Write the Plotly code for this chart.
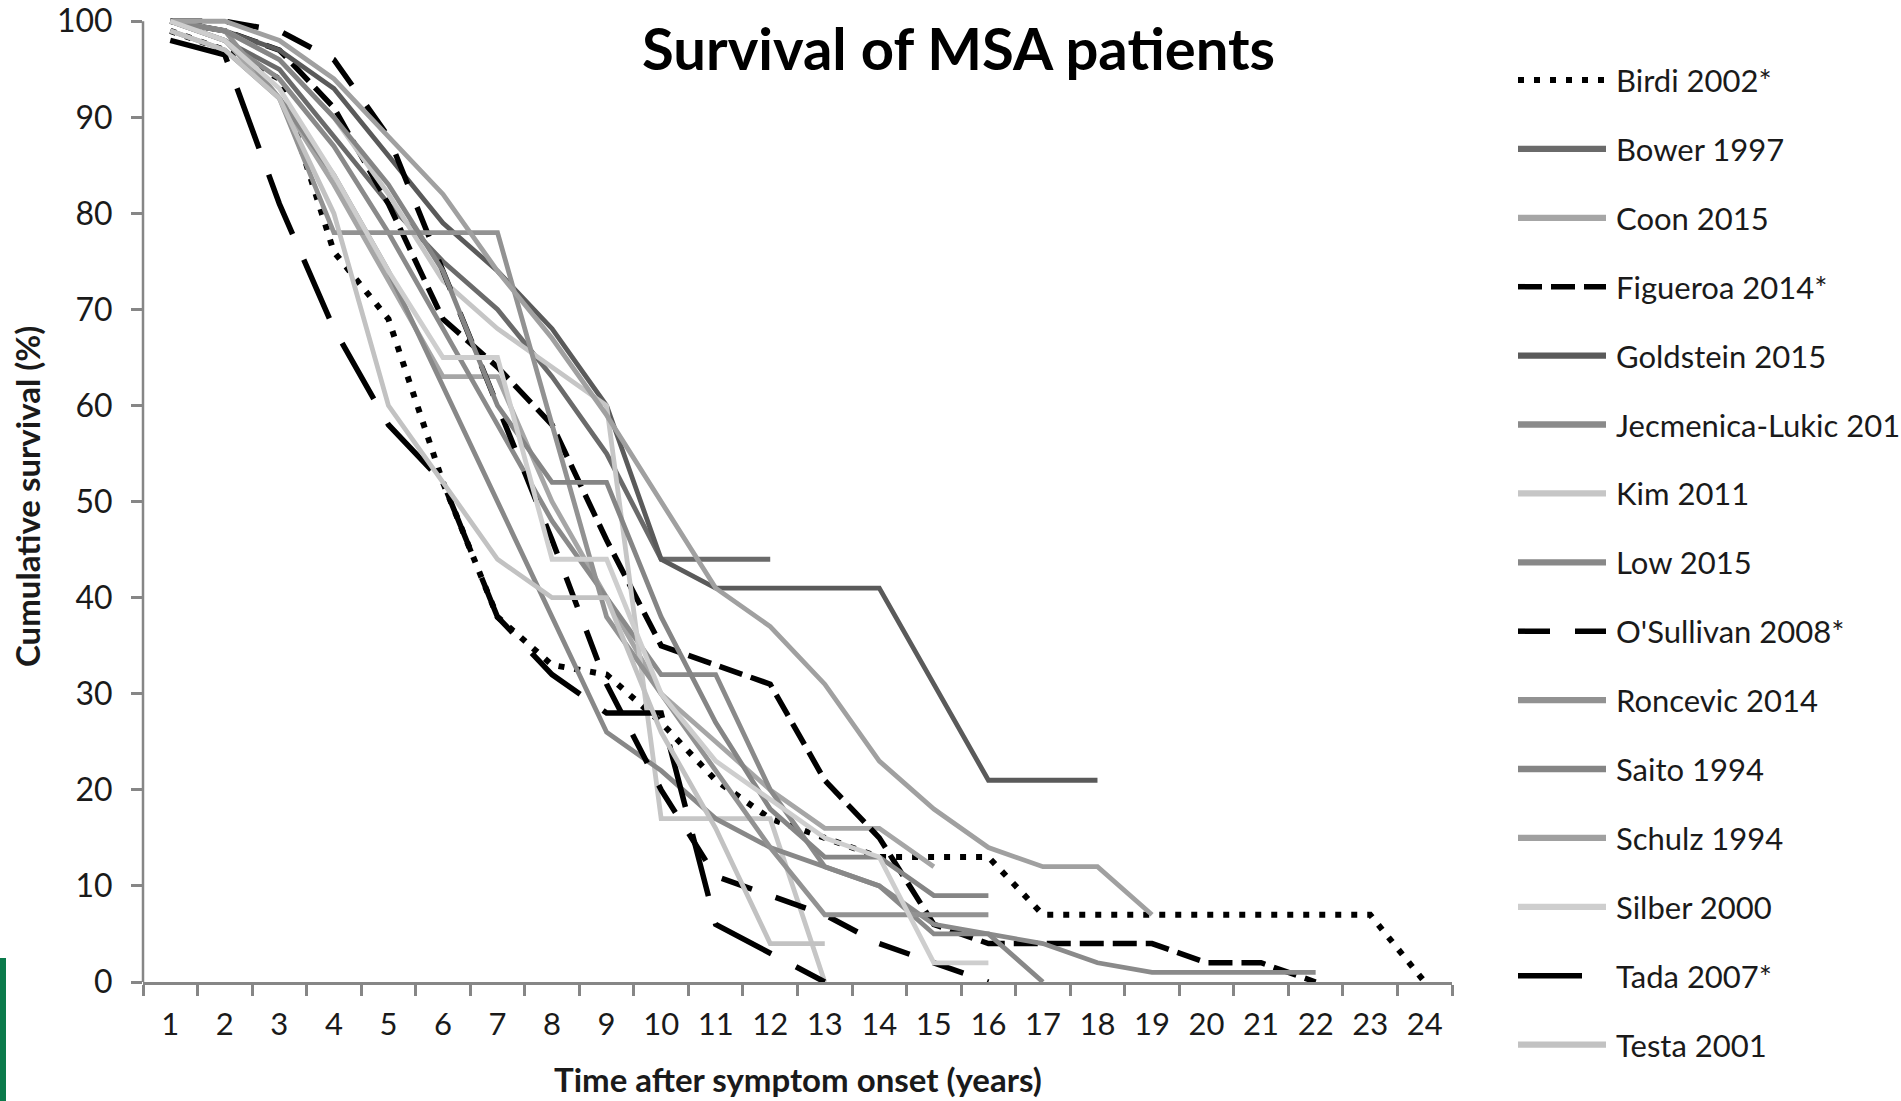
import plotly.graph_objects as go

# Years after symptom onset (category axis) and survival tick values
years = [str(i) for i in range(1, 25)]
y_ticks = list(range(0, 101, 10))

# Cumulative survival (%) per study, one value per year from year 1
birdi_2002 = [99, 97, 94, 76, 69, 52, 38, 33, 32, 27, 21, 17, 15, 13, 13, 13, 7, 7, 7, 7, 7, 7, 7, 0]
bower_1997 = [100, 98, 95, 88, 81, 75, 70, 63, 55, 44, 44, 44]
coon_2015 = [100, 98, 92, 83, 73, 63, 63, 50, 40, 30, 25, 20, 16, 16, 12]
figueroa_2014 = [100, 99, 97, 91, 81, 69, 64, 58, 46, 35, 33, 31, 21, 15, 6, 4, 4, 4, 4, 2, 2, 0]
goldstein_2015 = [100, 99, 97, 93, 86, 79, 74, 68, 60, 44, 41, 41, 41, 41, 31, 21, 21, 21]
jecmenica_2012 = [100, 98, 94, 87, 78, 68, 58, 48, 40, 32, 32, 20, 12, 10, 6, 5, 4, 2, 1, 1, 1, 1]
kim_2011 = [100, 99, 96, 90, 82, 73, 68, 64, 60, 17, 17, 17, 0]
low_2015 = [99, 97, 92, 84, 74, 62, 50, 38, 26, 22, 17, 14, 12, 10, 5, 5, 0]
osullivan_2008 = [100, 100, 99, 96, 88, 74, 60, 46, 31, 20, 11, 9, 7, 4, 2, 0]
roncevic_2014 = [100, 99, 92, 78, 78, 78, 78, 58, 38, 30, 22, 14, 7, 7, 7, 7]
saito_1994 = [100, 99, 96, 90, 83, 74, 60, 52, 52, 38, 27, 18, 13, 13, 9, 9]
schulz_1994 = [100, 100, 98, 94, 88, 82, 74, 67, 59, 50, 41, 37, 31, 23, 18, 14, 12, 12, 7]
silber_2000 = [100, 98, 93, 84, 74, 65, 65, 44, 44, 30, 23, 19, 15, 13, 2, 2]
tada_2007 = [98, 96.5, 81, 68, 58, 52, 38, 32, 28, 28, 6, 3, 0]
testa_2001 = [99, 97, 92, 80, 60, 52, 44, 40, 40, 26, 16, 4, 4]

series_names = [
    "Birdi 2002*", "Bower 1997", "Coon 2015", "Figueroa 2014*", "Goldstein 2015",
    "Jecmenica-Lukic 2012", "Kim 2011", "Low 2015", "O'Sullivan 2008*", "Roncevic 2014",
    "Saito 1994", "Schulz 1994", "Silber 2000", "Tada 2007*", "Testa 2001",
]
series_values = [
    birdi_2002, bower_1997, coon_2015, figueroa_2014, goldstein_2015,
    jecmenica_2012, kim_2011, low_2015, osullivan_2008, roncevic_2014,
    saito_1994, schulz_1994, silber_2000, tada_2007, testa_2001,
]

# Line styles: (colour, width, dash)
BLACK_W = 5.5
GRAY_W = 4.8
styles = {
    "Birdi 2002*": ("#000000", 6, "6px,10px"),
    "Bower 1997": ("#6a6a6a", GRAY_W, "solid"),
    "Coon 2015": ("#a6a6a6", GRAY_W, "solid"),
    "Figueroa 2014*": ("#000000", BLACK_W, "24px,9px"),
    "Goldstein 2015": ("#5a5a5a", GRAY_W, "solid"),
    "Jecmenica-Lukic 2012": ("#8a8a8a", GRAY_W, "solid"),
    "Kim 2011": ("#c6c6c6", GRAY_W, "solid"),
    "Low 2015": ("#888888", GRAY_W, "solid"),
    "O'Sullivan 2008*": ("#000000", BLACK_W, "32px,25px"),
    "Roncevic 2014": ("#929292", GRAY_W, "solid"),
    "Saito 1994": ("#858585", GRAY_W, "solid"),
    "Schulz 1994": ("#a0a0a0", GRAY_W, "solid"),
    "Silber 2000": ("#cecece", GRAY_W, "solid"),
    "Tada 2007*": ("#000000", BLACK_W, "64px,28px"),
    "Testa 2001": ("#c2c2c2", GRAY_W, "solid"),
}

FONT = "Lato"
AXIS_COLOR = "#868686"
TEXT_COLOR = "#1a1a1a"

# Figure size and margins in px; the y range runs slightly past 100 so lines
# at the top are not cut in half
W, H = 1901, 1101
Y_MAX = 100.65
L, R, B = 143, 449, 119
PX_PER_UNIT = 9.61
T = round(H - B - Y_MAX * PX_PER_UNIT)
plot_w = W - L - R
plot_h = H - T - B


def px_to_paper_x(px):
    return (px - L) / plot_w


def px_to_paper_y(py):
    return (H - B - py) / plot_h


fig = go.Figure()

for name, vals in zip(series_names, series_values):
    color, width, dash = styles[name]
    fig.add_trace(go.Scatter(
        x=years[:len(vals)],
        y=vals,
        mode="lines",
        name=name,
        line=dict(color=color, width=width, dash=dash),
        showlegend=False,
        hoverinfo="skip",
    ))

shapes = []
annotations = []

# Vertical axis line from 0 to 100
shapes.append(dict(
    type="line", xref="paper", yref="y", x0=0, x1=0, y0=0, y1=100,
    line=dict(color=AXIS_COLOR, width=2.5),
))

# Legend drawn at the right: sample line + label for each study
leg_top = 80
leg_step = 68.9
line_x0, line_x1 = 1518, 1606
text_x = 1614
for i, name in enumerate(series_names):
    color, width, dash = styles[name]
    yy = px_to_paper_y(leg_top + i * leg_step)
    lw = width + 1.5 if dash == "solid" else width
    shapes.append(dict(
        type="line", xref="paper", yref="paper",
        x0=px_to_paper_x(line_x0), x1=px_to_paper_x(line_x1), y0=yy, y1=yy,
        line=dict(color=color, width=lw, dash=dash),
    ))
    annotations.append(dict(
        xref="paper", yref="paper", x=px_to_paper_x(text_x), y=yy,
        xanchor="left", yanchor="middle", showarrow=False, text=name,
        font=dict(family=FONT, size=31, color=TEXT_COLOR),
    ))

# Green edge bar at the lower left
shapes.append(dict(
    type="rect", xref="paper", yref="paper", layer="below",
    x0=px_to_paper_x(0), x1=px_to_paper_x(6), y0=px_to_paper_y(H), y1=px_to_paper_y(958),
    line=dict(width=0), fillcolor="#0b7a4b",
))

# Title and axis titles
annotations.append(dict(
    xref="paper", yref="paper", x=px_to_paper_x(958), y=px_to_paper_y(47),
    xanchor="center", yanchor="middle", showarrow=False,
    text="<b>Survival of MSA patients</b>",
    font=dict(family=FONT, size=58, color="#000000"),
))
annotations.append(dict(
    xref="paper", yref="paper", x=px_to_paper_x(27), y=px_to_paper_y(497),
    xanchor="center", yanchor="middle", showarrow=False, textangle=-90,
    text="<b>Cumulative survival (%)</b>",
    font=dict(family=FONT, size=33, color=TEXT_COLOR),
))
annotations.append(dict(
    xref="paper", yref="paper", x=px_to_paper_x(798), y=px_to_paper_y(1079),
    xanchor="center", yanchor="middle", showarrow=False,
    text="<b>Time after symptom onset (years)</b>",
    font=dict(family=FONT, size=33, color=TEXT_COLOR),
))

fig.update_layout(
    width=W, height=H, autosize=False,
    margin=dict(l=L, r=R, t=T, b=B, pad=0, autoexpand=False),
    paper_bgcolor="white", plot_bgcolor="white",
    showlegend=False,
    shapes=shapes,
    annotations=annotations,
    font=dict(family=FONT, color=TEXT_COLOR),
)

fig.update_xaxes(
    type="category", categoryorder="array", categoryarray=years,
    range=[-0.5, len(years) - 0.5], automargin=False,
    tickson="boundaries", ticks="outside", ticklen=11, tickwidth=2.5, tickcolor=AXIS_COLOR,
    showline=True, linecolor=AXIS_COLOR, linewidth=2.5,
    showgrid=False, zeroline=False,
    tickfont=dict(family=FONT, size=31, color=TEXT_COLOR),
    ticklabelstandoff=13,
)
fig.update_yaxes(
    range=[0, Y_MAX], tickvals=y_ticks, automargin=False,
    ticks="outside", ticklen=11, tickwidth=2.5, tickcolor=AXIS_COLOR,
    showline=False, showgrid=False, zeroline=False,
    tickfont=dict(family=FONT, size=32, color=TEXT_COLOR),
    ticklabelstandoff=12, ticklabeloverflow="allow",
)

fig.write_html("out.html")
